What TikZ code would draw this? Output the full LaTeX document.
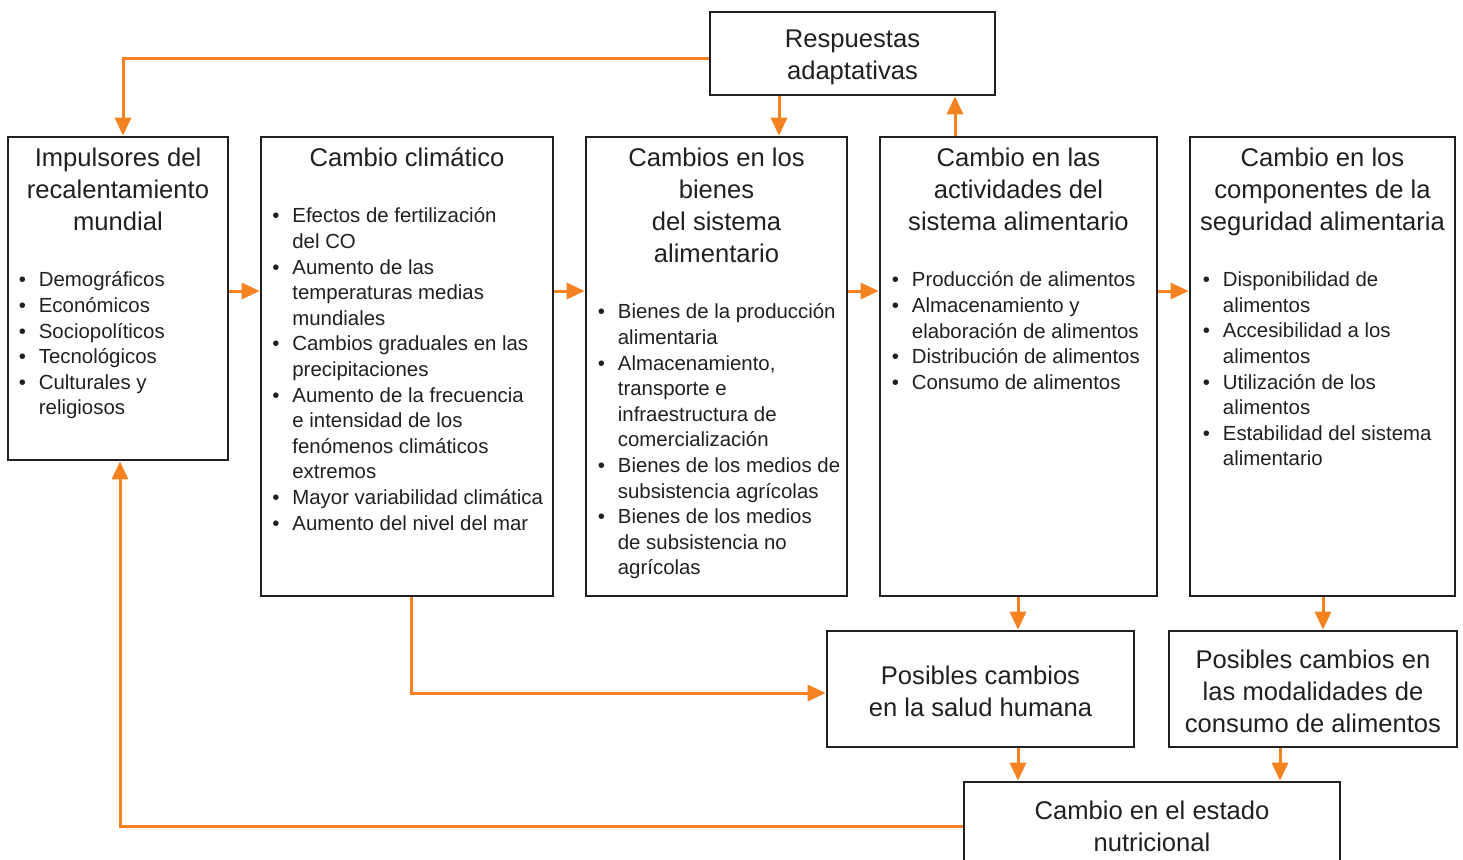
\documentclass[tikz,border=0pt]{standalone}
\usepackage{fontspec}
\setmainfont{Liberation Sans}
\usetikzlibrary{arrows.meta}
\definecolor{orng}{HTML}{F58220}
\definecolor{ink}{HTML}{231F20}
\newcommand{\bu}{\makebox[10pt][l]{\textbullet}}
\newcommand{\ci}{\hspace*{10pt}}
\begin{document}
\begin{tikzpicture}[x=0.5pt,y=-0.5pt,
 box/.style={draw=ink, line width=1.3pt, rectangle, inner sep=0pt, text=ink, font=\fontsize{12.8}{16}\selectfont, align=center},
 txt/.style={inner sep=0pt, text=ink, font=\fontsize{12.8}{16}\selectfont, align=center},
 ttl/.style={anchor=north, inner sep=0pt, text=ink, font=\fontsize{12.8}{16}\selectfont, align=center},
 lst/.style={anchor=north west, inner sep=0pt, text=ink, font=\fontsize{10.2}{12.8}\selectfont, align=left},
 arr/.style={draw=orng, line width=1.5pt, -{Triangle[length=9pt,width=8pt]}}]
\useasboundingbox (0,0) rectangle (1463,859);
% boxes
\node[box, minimum width=142.5pt, minimum height=41.5pt] (resp) at (852.5,53.5) {};
\node[txt] (respT) at (852.5,57) {Respuestas\\adaptativas};
\node[box, minimum width=110pt, minimum height=161.5pt] (imp) at (118,298.5) {};
\node[box, minimum width=146pt, minimum height=229.5pt] (clim) at (407,366.5) {};
\node[box, minimum width=130.5pt, minimum height=229.5pt] (bien) at (716.5,366.5) {};
\node[box, minimum width=138.5pt, minimum height=229.5pt] (act) at (1018.5,366.5) {};
\node[box, minimum width=132.5pt, minimum height=229.5pt] (comp) at (1322.5,366.5) {};
\node[box, minimum width=153.5pt, minimum height=58pt] (salud) at (980.5,689) {};
\node[txt] (saludT) at (980.5,691) {Posibles cambios\\en la salud humana};
\node[box, minimum width=144pt, minimum height=58pt] (modal) at (1313,689) {};
\node[txt] (modalT) at (1313,691) {Posibles cambios en\\las modalidades de\\consumo de alimentos};
\node[box, minimum width=188pt, minimum height=44pt] (est) at (1152,826) {Cambio en el estado\\nutricional};
% titles
\node[ttl] (impT) at (118,147.5) {Impulsores del\\recalentamiento\\mundial};
\node[ttl] (climT) at (407,147.5) {Cambio climático};
\node[ttl] (bienT) at (716.5,147.5) {Cambios en los\\bienes\\del sistema\\alimentario};
\node[ttl] (actT) at (1018.5,147.5) {Cambio en las\\actividades del\\sistema alimentario};
\node[ttl] (compT) at (1322.5,147.5) {Cambio en los\\componentes de la\\seguridad alimentaria};
% lists
\node[lst] (impL) at (18.5,271.5) {\bu Demográficos\\\bu Económicos\\\bu Sociopolíticos\\\bu Tecnológicos\\\bu Culturales y\\\ci religiosos};
\node[lst] (climL) at (272,207.5) {\bu Efectos de fertilización\\\ci del CO\\\bu Aumento de las\\\ci temperaturas medias\\\ci mundiales\\\bu Cambios graduales en las\\\ci precipitaciones\\\bu Aumento de la frecuencia\\\ci e intensidad de los\\\ci fenómenos climáticos\\\ci extremos\\\bu Mayor variabilidad climática\\\bu Aumento del nivel del mar};
\node[lst] (bienL) at (597.5,303.5) {\bu Bienes de la producción\\\ci alimentaria\\\bu Almacenamiento,\\\ci transporte e\\\ci infraestructura de\\\ci comercialización\\\bu Bienes de los medios de\\\ci subsistencia agrícolas\\\bu Bienes de los medios\\\ci de subsistencia no\\\ci agrícolas};
\node[lst] (actL) at (891.5,271.5) {\bu Producción de alimentos\\\bu Almacenamiento y\\\ci elaboración de alimentos\\\bu Distribución de alimentos\\\bu Consumo de alimentos};
\node[lst] (compL) at (1202.5,271.5) {\bu Disponibilidad de\\\ci alimentos\\\bu Accesibilidad a los\\\ci alimentos\\\bu Utilización de los\\\ci alimentos\\\bu Estabilidad del sistema\\\ci alimentario};
% connectors
\draw[arr] (resp.west |- 0,58) -| (imp.north -| 123,0);
\draw[arr] (resp.south -| 779,0) -- (bien.north -| 779,0);
\draw[arr] (act.north -| 955,0) -- (resp.south -| 955,0);
\draw[arr] (imp.east |- 0,291) -- (clim.west |- 0,291);
\draw[arr] (clim.east |- 0,291) -- (bien.west |- 0,291);
\draw[arr] (bien.east |- 0,291) -- (act.west |- 0,291);
\draw[arr] (act.east |- 0,291) -- (comp.west |- 0,291);
\draw[arr] (act.south -| 1018,0) -- (salud.north -| 1018,0);
\draw[arr] (comp.south -| 1323,0) -- (modal.north -| 1323,0);
\draw[arr] (clim.south -| 411,0) |- (salud.west |- 0,693);
\draw[arr] (salud.south -| 1018,0) -- (est.north -| 1018,0);
\draw[arr] (modal.south -| 1280,0) -- (est.north -| 1280,0);
\draw[arr] (est.west |- 0,826) -| (imp.south -| 120,0);
\end{tikzpicture}
\end{document}
